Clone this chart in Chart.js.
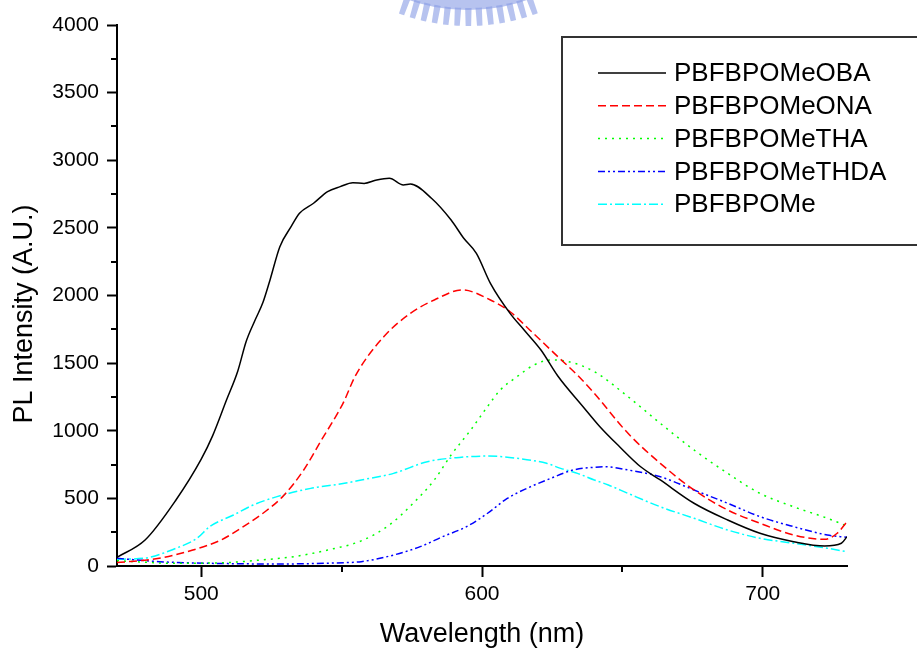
<!DOCTYPE html>
<html>
<head>
<meta charset="utf-8">
<title>PL spectra</title>
<script src="https://cdn.jsdelivr.net/npm/chart.js@4.4.0/dist/chart.umd.min.js"></script>
<style>
  html, body { margin: 0; padding: 0; background: #fff; }
  #wrap { width: 917px; height: 651px; }
</style>
</head>
<body>
<div id="wrap"><canvas id="plChart" width="917" height="651"></canvas></div>
<script>
// PL spectra of the polymer series (wavelength in nm, intensity in A.U.)
const obaNm = [470, 480, 491, 500, 504, 509, 513, 516, 519, 522, 524.5, 528, 532, 535, 540, 545, 549.5, 554, 558, 562.5, 567, 572, 574.5, 582, 589, 593.5, 598, 603, 610, 615, 621, 627, 636, 642, 649, 656.5, 663.5, 675.5, 687.5, 699, 711, 722, 728, 730];
const obaPL = [64, 192, 488, 790, 960, 1227, 1440, 1660, 1810, 1950, 2115, 2361, 2509, 2608, 2682, 2768, 2805, 2834, 2829, 2854, 2866, 2817, 2824, 2719, 2558, 2423, 2312, 2090, 1868, 1745, 1597, 1405, 1178, 1030, 882, 734, 636, 464, 340, 242, 180, 148, 168, 217];

const onaNm = [470, 485, 497, 507, 515, 522, 529, 536.5, 542.5, 550.5, 555, 565, 574.5, 583, 593, 603, 610, 617, 627, 635, 640, 652, 663.5, 675.5, 687.5, 699, 711, 722, 726.5, 730];
const onaPL = [25, 57, 118, 192, 291, 390, 513, 710, 920, 1203, 1410, 1695, 1868, 1967, 2041, 1967, 1880, 1745, 1548, 1390, 1277, 981, 759, 562, 414, 316, 229, 197, 242, 328];

const thaNm = [470, 491, 509, 521, 533, 545, 557, 567, 575.5, 583, 589, 596, 602, 606.5, 612.5, 618.5, 624.5, 630, 640, 652, 663.5, 675.5, 687.5, 699, 711, 723, 730];
const thaPL = [39, 20, 25, 44, 69, 118, 186, 303, 464, 636, 821, 1006, 1180, 1301, 1400, 1486, 1523, 1515, 1437, 1252, 1055, 858, 685, 537, 438, 353, 296];

const thdaNm = [470, 485, 503, 527, 551, 557, 568.5, 578, 586, 594.5, 602, 609, 616, 624.5, 632.5, 640, 643.5, 652, 663.5, 675.5, 687.5, 699, 711, 723, 730];
const thdaPL = [57, 32, 20, 15, 25, 32, 81, 143, 217, 291, 390, 500, 574, 648, 710, 730, 734, 710, 660, 562, 464, 365, 291, 229, 212];

const baseNm = [470, 479.5, 491, 498.5, 503, 511.5, 518.5, 527, 539, 551, 557, 568.5, 580.5, 592, 602, 612.5, 623, 628, 634, 640, 645, 652, 663.5, 675.5, 687.5, 699, 711, 723, 730];
const basePL = [50, 57, 131, 205, 291, 377, 451, 513, 574, 611, 636, 685, 771, 803, 813, 796, 759, 722, 685, 636, 599, 537, 438, 353, 266, 205, 168, 131, 106];

const seriesNames = ['PBFBPOMeOBA', 'PBFBPOMeONA', 'PBFBPOMeTHA', 'PBFBPOMeTHDA', 'PBFBPOMe'];

const xTickValues = [500, 600, 700];
const xMinorTicks = [550, 650];
const yTickValues = [0, 500, 1000, 1500, 2000, 2500, 3000, 3500, 4000];
const yMinorTicks = [250, 750, 1250, 1750, 2250, 2750, 3250, 3750];

const FONT = '"Liberation Sans", Arial, Helvetica, sans-serif';
Chart.defaults.font.family = FONT;
Chart.defaults.color = '#000';

const zip = (xs, ys) => xs.map((x, i) => ({ x: x, y: ys[i] }));

const lineStyles = [
    { color: '#000000', dash: [] },
    { color: '#ff0000', dash: [8, 4] },
    { color: '#00ff00', dash: [2, 5] },
    { color: '#0000ff', dash: [7, 3, 2, 3, 2, 3] },
    { color: '#00ffff', dash: [9, 3, 2, 3] }
];

const rawSeries = [[obaNm, obaPL], [onaNm, onaPL], [thaNm, thaPL], [thdaNm, thdaPL], [baseNm, basePL]];

const datasets = rawSeries.map((s, i) => ({
    label: seriesNames[i],
    data: zip(s[0], s[1]),
    borderColor: lineStyles[i].color,
    borderDash: lineStyles[i].dash,
    borderWidth: 1.5,
    pointRadius: 0,
    fill: false,
    cubicInterpolationMode: 'monotone'
}));

// faint emblem at the top edge of the page
const emblem = {
    id: 'emblem',
    beforeDraw(chart) {
        const ctx = chart.ctx;
        const cx = 468, cy = -170;
        ctx.save();
        ctx.filter = 'blur(0.7px)';
        ctx.fillStyle = 'rgba(135, 155, 228, 0.6)';
        ctx.beginPath();
        ctx.arc(cx, cy, 180, Math.PI / 2 - 0.38, Math.PI / 2 + 0.38, false);
        ctx.arc(cx, cy, 168, Math.PI / 2 + 0.38, Math.PI / 2 - 0.38, true);
        ctx.closePath();
        ctx.fill();
        for (let a = Math.PI / 2 - 0.35; a <= Math.PI / 2 + 0.36; a += 0.058) {
            ctx.beginPath();
            ctx.arc(cx, cy, 196, a - 0.014, a + 0.014, false);
            ctx.arc(cx, cy, 178, a + 0.018, a - 0.018, true);
            ctx.closePath();
            ctx.fill();
        }
        ctx.restore();
    }
};

// minor ticks, rotated y title and the boxed legend
const decorations = {
    id: 'decorations',
    afterDraw(chart) {
        const ctx = chart.ctx;
        const xs = chart.scales.x;
        const ys = chart.scales.y;
        const area = chart.chartArea;

        ctx.save();
        ctx.strokeStyle = '#000';
        ctx.lineWidth = 2;
        ctx.beginPath();
        yMinorTicks.forEach(v => {
            const py = Math.round(ys.getPixelForValue(v));
            ctx.moveTo(area.left, py);
            ctx.lineTo(area.left - 6, py);
        });
        xMinorTicks.forEach(v => {
            const px = Math.round(xs.getPixelForValue(v));
            ctx.moveTo(px, area.bottom);
            ctx.lineTo(px, area.bottom + 6);
        });
        ctx.stroke();

        // y axis title
        ctx.fillStyle = '#000';
        ctx.font = '27px ' + FONT;
        ctx.textAlign = 'center';
        ctx.textBaseline = 'middle';
        ctx.translate(25, 314);
        ctx.rotate(-Math.PI / 2);
        ctx.fillText('PL Intensity (A.U.)', 0, 0);
        ctx.restore();

        // legend box
        ctx.save();
        ctx.fillStyle = '#fff';
        ctx.fillRect(562, 37, 400, 208);
        ctx.strokeStyle = '#333';
        ctx.lineWidth = 2;
        ctx.strokeRect(562, 37, 400, 208);
        ctx.font = '26px ' + FONT;
        ctx.textAlign = 'left';
        ctx.textBaseline = 'middle';
        chart.data.datasets.forEach((ds, i) => {
            const y = 73 + i * 32.8;
            ctx.strokeStyle = ds.borderColor;
            ctx.lineWidth = 1.5;
            ctx.setLineDash(ds.borderDash);
            ctx.beginPath();
            ctx.moveTo(598, y);
            ctx.lineTo(666, y);
            ctx.stroke();
            ctx.setLineDash([]);
            ctx.fillStyle = '#000';
            ctx.fillText(ds.label, 674, y + 1);
        });
        ctx.restore();
    }
};

const ctx = document.getElementById('plChart').getContext('2d');
const plChart = new Chart(ctx, {
    type: 'line',
    data: { datasets: datasets },
    options: {
        responsive: false,
        animation: false,
        devicePixelRatio: 1,
        layout: { padding: { left: 0, right: 70, top: 25, bottom: 0 } },
        plugins: {
            legend: { display: false },
            tooltip: { enabled: false }
        },
        scales: {
            x: {
                type: 'linear',
                min: 470,
                max: 730,
                afterBuildTicks: axis => { axis.ticks = xTickValues.map(v => ({ value: v })); },
                afterFit: axis => { axis.height = 85; },
                grid: { drawOnChartArea: false, drawTicks: true, tickLength: 11, tickColor: '#000', tickWidth: 2 },
                border: { display: true, color: '#000', width: 2 },
                ticks: { font: { size: 21 }, color: '#000', padding: 5, maxRotation: 0, callback: v => String(v) },
                title: { display: true, text: 'Wavelength (nm)', font: { size: 27 }, color: '#000', padding: { top: 0, bottom: 0 } }
            },
            y: {
                type: 'linear',
                min: 0,
                max: 4000,
                afterBuildTicks: axis => { axis.ticks = yTickValues.map(v => ({ value: v })); },
                afterFit: axis => { axis.width = 117; },
                grid: { drawOnChartArea: false, drawTicks: true, tickLength: 10, tickColor: '#000', tickWidth: 2 },
                border: { display: true, color: '#000', width: 2 },
                ticks: { font: { size: 21 }, color: '#000', padding: 8, callback: v => String(v) }
            }
        }
    },
    plugins: [emblem, decorations]
});
</script>
</body>
</html>
